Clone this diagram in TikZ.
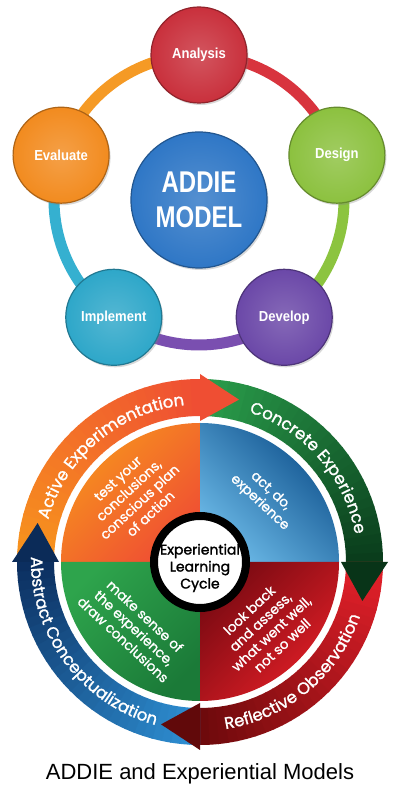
\documentclass[tikz,border=0pt]{standalone}
\usepackage{fontspec}
\setmainfont{Liberation Sans}
\newfontfamily\capfont{Liberation Sans}
\newfontfamily\addiefont[FakeStretch=0.8]{Liberation Sans}
\newfontfamily\labfont[FakeStretch=0.9]{Liberation Sans}
\newfontfamily\cyc[FakeBold=1.3]{Poppins}
\newfontfamily\cycc[FakeBold=1.6]{Poppins}
\usetikzlibrary{decorations.text,shadows}
\definecolor{anC}{HTML}{C9303C}
\definecolor{deC}{HTML}{8CC13F}
\definecolor{dvC}{HTML}{6B48A8}
\definecolor{imC}{HTML}{2EA7C9}
\definecolor{evC}{HTML}{F28B1F}
\definecolor{mdC}{HTML}{2F77C6}
\definecolor{ringA}{HTML}{D8343E}
\definecolor{ringD}{HTML}{8CC43F}
\definecolor{ringV}{HTML}{7A4FB0}
\definecolor{ringI}{HTML}{35B0D0}
\definecolor{ringE}{HTML}{F59A25}
\definecolor{aeA}{HTML}{F7941D}
\definecolor{aeB}{HTML}{EF4E33}
\definecolor{ceA}{HTML}{2A9D4B}
\definecolor{ceB}{HTML}{0A3D1C}
\definecolor{roA}{HTML}{E3202A}
\definecolor{roB}{HTML}{6E0A0C}
\definecolor{acA}{HTML}{2E8FD3}
\definecolor{acB}{HTML}{0C2F60}
\definecolor{qbA}{HTML}{0D4F8B}
\definecolor{qbB}{HTML}{6AB8E6}
\definecolor{qgA}{HTML}{2EA44C}
\definecolor{qgB}{HTML}{1B7A38}
\definecolor{qrA}{HTML}{7A0A12}
\definecolor{qrB}{HTML}{E31F27}
\newcommand\cycband[4]{%
  \foreach \i in {0,...,29}{%
    \pgfmathsetmacro\aa{#1-3*\i}%
    \pgfmathsetmacro\bb{#1-3*\i-3.4}%
    \pgfmathtruncatemacro\pp{100*\i/29}%
    \fill[#4!\pp!#3] (\aa:146) arc[start angle=\aa, end angle=\bb, radius=146]
      -- (\bb:183) arc[start angle=\bb, end angle=\aa, radius=183] -- cycle;
  }}
\tikzset{
  ball/.style={circle, inner sep=0pt, minimum size=96pt, draw=#1!72!black,
    line width=1.2pt, inner color=#1!82!white, outer color=#1,
    drop shadow={shadow xshift=1.5pt, shadow yshift=-2pt, opacity=0.3}},
  balltext/.style={text=white, font=\labfont\bfseries\fontsize{14.5}{14.5}\selectfont},
  ringseg/.style={line width=11pt},
  qtext/.style={align=center, text=white, inner sep=0pt,
    font=\cyc\fontsize{13.5}{16}\selectfont},
  bandtext/.style={decorate, decoration={text along path, text align=center,
    text color=white, text={|\cyc\fontsize{16.5}{16.5}\selectfont|#1}}},
}
\begin{document}
\begin{tikzpicture}[x=1pt,y=1pt]
\fill[white] (0,0) rectangle (400,800);
\useasboundingbox (0,0) rectangle (400,800);
% ---------------- ADDIE model ----------------
\coordinate (O1) at (199,600);
\begin{scope}[shift={(199,600)}]
  \coordinate (pA) at (90:145);
  \coordinate (pD) at (18:145);
  \coordinate (pV) at (-54:145);
  \coordinate (pI) at (234:145);
  \coordinate (pE) at (162:145);
\end{scope}
\draw[ringseg, ringA] (pA) arc[start angle=90, end angle=18, radius=145];
\draw[ringseg, ringD] (pD) arc[start angle=18, end angle=-54, radius=145];
\draw[ringseg, ringV] (pV) arc[start angle=-54, end angle=-126, radius=145];
\draw[ringseg, ringI] (pI) arc[start angle=234, end angle=162, radius=145];
\draw[ringseg, ringE] (pE) arc[start angle=162, end angle=90, radius=145];
\node[ball=anC, balltext] (A) at (pA) {Analysis};
\node[ball=deC, balltext] (D) at (pD) {Design};
\node[ball=dvC, balltext] (V) at (pV) {Develop};
\node[ball=imC, balltext] (I) at (pI) {Implement};
\node[ball=evC, balltext] (E) at (pE) {Evaluate};
\node[ball=mdC, minimum size=136pt, text=white, align=center,
  font=\addiefont\bfseries\fontsize{30}{34.5}\selectfont] (M) at (O1) {ADDIE\\MODEL};
% ---------------- Experiential learning cycle ----------------
\begin{scope}[shift={(200,238)}]
  % quadrants
  \shade[top color=aeA, bottom color=aeB, shading angle=45]
    (0,0) -- (90:139) arc[start angle=90, end angle=180, radius=139] -- cycle;
  \shade[top color=qbA, bottom color=qbB, shading angle=-45]
    (0,0) -- (0:139) arc[start angle=0, end angle=90, radius=139] -- cycle;
  \shade[top color=qgA, bottom color=qgB, shading angle=45]
    (0,0) -- (180:139) arc[start angle=180, end angle=270, radius=139] -- cycle;
  \shade[top color=qrA, bottom color=qrB, shading angle=45]
    (0,0) -- (270:139) arc[start angle=270, end angle=360, radius=139] -- cycle;
  % bands
  \cycband{180}{90}{aeA}{aeB}
  \cycband{90}{0}{ceA}{ceB}
  \cycband{0}{-90}{roA}{roB}
  \cycband{-90}{-180}{acA}{acB}
  % arrowheads
  \fill[aeB] (90:141) -- (76.5:167) -- (90:188) -- cycle;
  \fill[ceB!85!black] (0:141) -- (-13.5:167) -- (0:188) -- cycle;
  \fill[roB!88!black] (-90:141) -- (-103.5:167) -- (-90:188) -- cycle;
  \fill[acB!92!black] (180:141) -- (166.5:167) -- (180:188) -- cycle;
  % band labels
  \path[bandtext={Active Experimentation}] (180:157.5) arc[start angle=180, end angle=80, radius=157.5];
  \path[bandtext={Concrete Experience}] (91:157.5) arc[start angle=91, end angle=-9, radius=157.5];
  \path[bandtext={Reflective Observation}] (260:169) arc[start angle=260, end angle=360, radius=169];
  \path[bandtext={Abstract Conceptualization}] (166.5:169) arc[start angle=166.5, end angle=266.5, radius=169];
  % quadrant texts
  \node[qtext, rotate=43] (tq1) at (135:93) {test your\\conclusions,\\conscious plan\\of action};
  \node[qtext, rotate=-43] (tq2) at (45:92) {act, do,\\experience};
  \node[qtext, rotate=-43] (tq3) at (225:93) {make sense of\\the experience,\\draw conclusions};
  \node[qtext, rotate=43] (tq4) at (315:93) {look back\\and assess,\\what went well,\\not so well};
  % centre
  \node[circle, draw=black, line width=8pt, fill=white, minimum size=92pt, inner sep=0pt] (elc) at (0,0) {};
  \node[align=center, inner sep=0pt, font=\cycc\fontsize{14}{17}\selectfont] (elct) at (0,-6) {Experiential\\Learning\\Cycle};
\end{scope}
% caption
\node[font=\capfont\fontsize{22}{27}\selectfont, anchor=base, inner sep=0pt] (cap) at (200,20.7) {ADDIE and Experiential Models};
\end{tikzpicture}
\end{document}
